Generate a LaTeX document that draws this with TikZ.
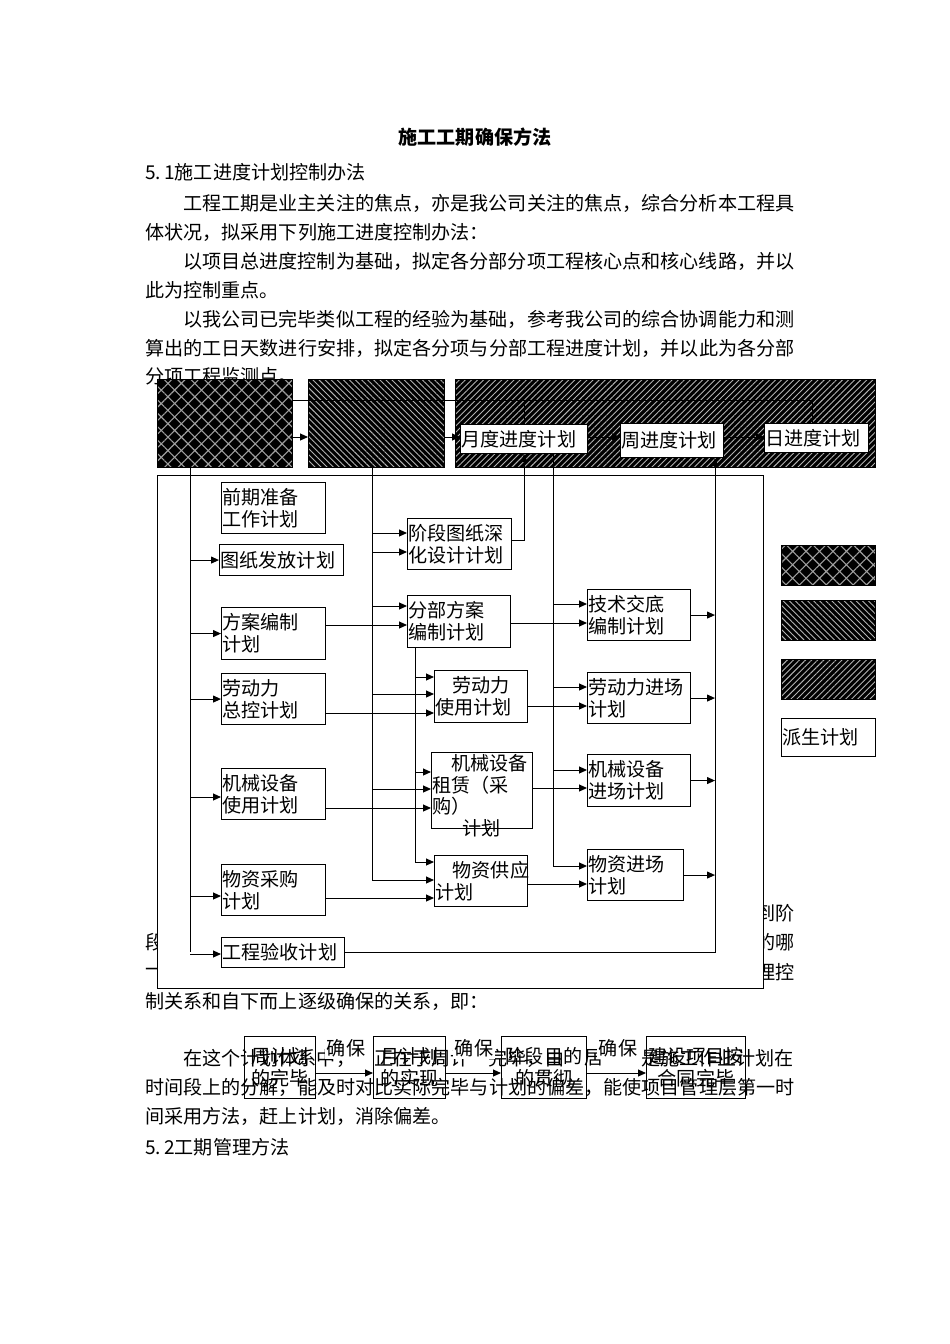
\documentclass[tikz,border=0pt]{standalone}
\usepackage{fontspec}
\setmainfont{Noto Sans CJK SC}
\usetikzlibrary{arrows.meta,patterns.meta}
\begin{document}
\begin{tikzpicture}[x=1pt,y=-1pt,
  every node/.style={inner sep=0pt, font=\fontsize{19.1}{22}\selectfont},
  txt/.style={anchor=west},
  rtxt/.style={anchor=east},
  box/.style={draw, line width=1.1pt, fill=white, anchor=north west, align=left, inner xsep=1pt, inner ysep=0pt},
  cbox/.style={draw, line width=1.1pt, anchor=north west, align=center, inner sep=0pt},
  ln/.style={line width=1pt},
  arr/.style={line width=1pt, -{Triangle[length=8pt,width=7pt]}},
  cross/.style={draw, line width=1pt, anchor=north west, preaction={fill=black}, pattern={Hatch[angle=45,distance=9.5pt,line width=1.1pt]}, pattern color=white!62!black},
  nwl/.style={draw, line width=1pt, anchor=north west, preaction={fill=black}, pattern={Lines[angle=-45,distance=4.3pt,line width=0.9pt]}, pattern color=white!70!black},
  nel/.style={draw, line width=1pt, anchor=north west, preaction={fill=black}, pattern={Lines[angle=45,distance=4.3pt,line width=0.9pt]}, pattern color=white!70!black},
  lab/.style={fill=white, inner xsep=2pt, inner ysep=2pt}
]
\useasboundingbox (0,0) rectangle (950,1344);
\fill[white] (0,0) rectangle (950,1344);

% ---------- body text ----------
\node[font=\fontsize{19.1}{22}\selectfont\bfseries] (title) at (475,137) {施工工期确保方法};
\node[txt] (h51) at (145,172) {5.\,1施工进度计划控制办法};
\node[txt] (p1) at (183,203) {工程工期是业主关注的焦点，亦是我公司关注的焦点，综合分析本工程具};
\node[txt] (p2) at (145,232) {体状况，拟采用下列施工进度控制办法：};
\node[txt] (p3) at (183,261) {以项目总进度控制为基础，拟定各分部分项工程核心点和核心线路，并以};
\node[txt] (p4) at (145,290) {此为控制重点。};
\node[txt] (p5) at (183,319) {以我公司已完毕类似工程的经验为基础，参考我公司的综合协调能力和测};
\node[txt] (p6) at (145,348) {算出的工日天数进行安排，拟定各分项与分部工程进度计划，并以此为各分部};
\node[txt] (p7) at (145,376) {分项工程监测点。};
\node[rtxt] (f1) at (795,913) {到阶};
\node[txt] (f2) at (145,942) {段};
\node[rtxt] (f3) at (795,942) {的哪};
\node[txt] (f4) at (145,972) {一};
\node[rtxt] (f5) at (795,972) {理控};
\node[txt] (p8) at (145,1001) {制关系和自下而上逐级确保的关系，即：};
\node[txt] (q1a) at (183,1058) {在这个计划体系中，};
\node[txt] (q1b) at (374,1058) {正在于周计};
\node[txt] (q1c) at (488,1058) {完毕，由};
\node[txt] (q1d) at (584,1058) {居};
\node[txt] (q1e) at (641,1058) {是施工作业计划在};
\node[txt] (q2) at (145,1087) {时间段上的分解，能及时对比实际完毕与计划的偏差，能使项目管理层第一时};
\node[txt] (q3) at (145,1116) {间采用方法，赶上计划，消除偏差。};
\node[txt] (h52) at (145,1147) {5.\,2工期管理方法};

% ---------- top band ----------
\node[cross, minimum width=135pt, minimum height=88pt] (tA) at (157,379) {};
\node[nwl, minimum width=136pt, minimum height=88pt] (tB) at (308,379) {};
\node[nel, minimum width=420pt, minimum height=88pt] (tC) at (455,379) {};

% ---------- big frame ----------
\node[draw, line width=1.1pt, fill=white, anchor=north west, minimum width=606pt, minimum height=513pt] (frame) at (157,475) {};

% ---------- top band plans ----------
\node[box, minimum width=127pt, minimum height=29pt, text width=125pt] (yue) at (460,424) {月度进度计划};
\node[box, minimum width=103pt, minimum height=34pt, text width=101pt] (zhou) at (620,423) {周进度计划};
\node[box, minimum width=104pt, minimum height=29pt, text width=102pt] (ri) at (764,423) {日进度计划};

% ---------- left column ----------
\node[box, minimum width=104pt, minimum height=51pt, text width=102pt] (qq) at (221,482) {前期准备\\工作计划};
\node[box, minimum width=124pt, minimum height=31pt, text width=122pt] (tz) at (219,544) {图纸发放计划};
\node[box, minimum width=104pt, minimum height=52pt, text width=102pt] (fa) at (221,607) {方案编制\\计划};
\node[box, minimum width=104pt, minimum height=51pt, text width=102pt] (ldz) at (221,673) {劳动力\\总控计划};
\node[box, minimum width=104pt, minimum height=51pt, text width=102pt] (jxs) at (221,768) {机械设备\\使用计划};
\node[box, minimum width=104pt, minimum height=51pt, text width=102pt] (wzc) at (221,864) {物资采购\\计划};
\node[box, minimum width=123pt, minimum height=30pt, text width=121pt] (ys) at (221,937) {工程验收计划};

% ---------- middle column ----------
\node[box, minimum width=104pt, minimum height=51pt, text width=102pt] (jd) at (407,518) {阶段图纸深\\化设计计划};
\node[box, minimum width=103pt, minimum height=52pt, text width=101pt] (fb) at (407,595) {分部方案\\编制计划};
\node[box, minimum width=93pt, minimum height=52pt, text width=91pt] (ldy) at (434,670) {\hspace*{0.9em}劳动力\\使用计划};
\node[box, minimum width=101pt, minimum height=76pt] (jxz) at (431,752) {};
\node[anchor=north west, align=left, font=\fontsize{19.1}{21.8}\selectfont] (jxzt) at (432,754) {\hspace*{1em}机械设备\\租赁（采\\购）\\\hspace*{1.6em}计划};
\node[box, minimum width=93pt, minimum height=51pt, text width=91pt] (wzg) at (434,855) {\hspace*{0.9em}物资供应\\计划};

% ---------- right column ----------
\node[box, minimum width=103pt, minimum height=51pt, text width=101pt] (js) at (587,589) {技术交底\\编制计划};
\node[box, minimum width=103pt, minimum height=51pt, text width=101pt] (ldj) at (587,672) {劳动力进场\\计划};
\node[box, minimum width=103pt, minimum height=52pt, text width=101pt] (jxj) at (587,754) {机械设备\\进场计划};
\node[box, minimum width=96pt, minimum height=51pt, text width=94pt] (wzj) at (587,849) {物资进场\\计划};

% ---------- legend ----------
\node[cross, minimum width=94pt, minimum height=40pt] (L1) at (781,545) {};
\node[nwl, minimum width=94pt, minimum height=40pt] (L2) at (781,600) {};
\node[nel, minimum width=94pt, minimum height=40pt] (L3) at (781,659) {};
\node[box, minimum width=94pt, minimum height=38pt, text width=92pt] (L4) at (781,718) {派生计划};

% ---------- bus coordinates ----------
\coordinate (bL) at (190,467);
\coordinate (bM) at (372,467);
\coordinate (bF) at (415,647);
\coordinate (bR) at (553,453);
\coordinate (bO) at (715,952);

% ---------- top band connectors ----------
\draw[arr] (tA.east |- 0,437) -- (tB.west |- 0,437);
\draw[arr] (tB.east |- 0,437) -- (yue.west |- 0,437);
\draw[arr] (yue.east |- 0,437) -- (zhou.west |- 0,437);
\draw[arr] (zhou.east |- 0,437) -- (ri.west |- 0,437);
\draw[ln] (tA.east |- 0,400) -| (ri.north -| 812,0);
\draw[ln] (yue.north |- 0,400) -- (yue.north);
\draw[ln] (zhou.north -| 667,0 |- 0,400) -- (zhou.north -| 667,0);

% ---------- buses ----------
\draw[ln] (bL) -- (bL |- 0,952);
\draw[ln] (bM) -- (bM |- 0,880);
\draw[ln] (bF) -- (bF |- 0,862);
\draw[ln] (bR) -- (bR |- 0,866);

% ---------- left column arrows ----------
\draw[arr] (bL |- tz.west) -- (tz.west);
\draw[arr] (bL |- fa.west) -- (fa.west);
\draw[arr] (bL |- ldz.west) -- (ldz.west);
\draw[arr] (bL |- 0,797) -- (jxs.west |- 0,797);
\draw[arr] (bL |- 0,896) -- (wzc.west |- 0,896);
\draw[arr] (bL |- 0,954) -- (ys.west |- 0,954);

% ---------- middle column arrows ----------
\draw[arr] (bM |- 0,533) -- (jd.west |- 0,533);
\draw[arr] (bM |- 0,552) -- (jd.west |- 0,552);
\draw[arr] (bM |- 0,606) -- (fb.west |- 0,606);
\draw[arr] (fa.east |- 0,625) -- (fb.west |- 0,625);
\draw[arr] (bF |- 0,677) -- (ldy.west |- 0,677);
\draw[arr] (bM |- 0,694) -- (ldy.west |- 0,694);
\draw[arr] (ldz.east |- 0,713) -- (ldy.west |- 0,713);
\draw[arr] (bF |- 0,772) -- (jxz.west |- 0,772);
\draw[arr] (bM |- 0,789) -- (jxz.west |- 0,789);
\draw[arr] (jxs.east |- 0,808) -- (jxz.west |- 0,808);
\draw[arr] (bF |- 0,862) -- (wzg.west |- 0,862);
\draw[arr] (bM |- 0,880) -- (wzg.west |- 0,880);
\draw[arr] (wzc.east |- 0,898) -- (wzg.west |- 0,898);
\draw[arr] (jd.east |- 0,540) -| (yue.south);

% ---------- right column arrows ----------
\draw[arr] (bR |- 0,604) -- (js.west |- 0,604);
\draw[arr] (fb.east |- 0,623) -- (js.west |- 0,623);
\draw[arr] (bR |- 0,687) -- (ldj.west |- 0,687);
\draw[arr] (ldy.east |- 0,706) -- (ldj.west |- 0,706);
\draw[arr] (bR |- 0,770) -- (jxj.west |- 0,770);
\draw[arr] (jxz.east |- 0,788) -- (jxj.west |- 0,788);
\draw[arr] (bR |- 0,866) -- (wzj.west |- 0,866);
\draw[arr] (wzg.east |- 0,884) -- (wzj.west |- 0,884);
\draw[arr] (js.east) -- (bO |- js.east);
\draw[arr] (ldj.east) -- (bO |- ldj.east);
\draw[arr] (jxj.east) -- (bO |- jxj.east);
\draw[arr] (wzj.east) -- (bO |- wzj.east);
\draw[arr] (ys.east |- 0,952) -- (bO) -- (zhou.south -| bO);

% ---------- bottom chain ----------
\node[lab] (k1) at (346,1048) {确保};
\node[lab] (k2) at (474,1048) {确保};
\node[lab] (k3) at (618,1048) {确保};
\node[cbox, minimum width=71pt, minimum height=62pt] (c1) at (244,1036) {周计划\\的完毕};
\node[cbox, minimum width=72pt, minimum height=62pt] (c2) at (373,1036) {月计划\\的实现};
\node[cbox, minimum width=85pt, minimum height=62pt] (c3) at (501,1036) {阶段目的\\的贯彻};
\node[cbox, minimum width=99pt, minimum height=62pt] (c4) at (646,1036) {建设项目按\\合同完毕};
\draw[arr] (c1.east |- 0,1073) -- (c2.west |- 0,1073);
\draw[arr] (c2.east |- 0,1073) -- (c3.west |- 0,1073);
\draw[arr] (c3.east |- 0,1073) -- (c4.west |- 0,1073);
\end{tikzpicture}
\end{document}
